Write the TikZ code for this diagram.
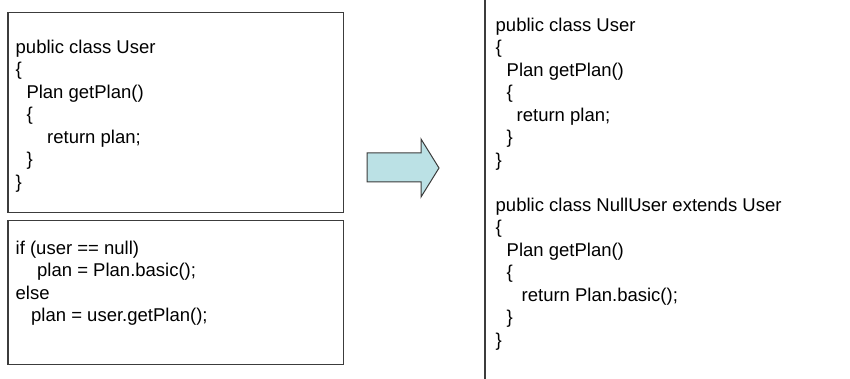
\documentclass[tikz,border=0pt]{standalone}
\usepackage{fontspec}
\setmainfont{Liberation Sans}
\definecolor{edge}{RGB}{60,60,60}
\definecolor{arrowfill}{RGB}{187,225,229}
\begin{document}
\begin{tikzpicture}[x=1pt,y=-1pt,
  codebox/.style={draw=edge, line width=1.2pt, anchor=north west, inner sep=0pt},
  code/.style={anchor=north west, inner sep=0pt, align=left, font=\fontsize{18.5}{22.5}\selectfont}]
\useasboundingbox (0,0) rectangle (850,379);
% left boxes
\node[codebox, minimum width=335.5pt, minimum height=200pt] (box1) at (7.3,12.3) {};
\node[codebox, minimum width=335.5pt, minimum height=144pt] (box2) at (7.3,220) {};
\node[code] (t1) at (15.5,39.5) {public class User\\
{\{}\\
\hspace*{10.8pt}Plan getPlan()\\
\hspace*{10.8pt}\{\\
\hspace*{31.5pt}return plan;\\
\hspace*{10.8pt}\}\\
\}};
\node[code] (t2) at (15.5,240.5) {if (user == null)\\
\hspace*{21.5pt}plan = Plan.basic();\\
else\\
\hspace*{15.5pt}plan = user.getPlan();};
% arrow
\draw[edge, line width=1pt, fill=arrowfill] (367,153) -- (421,153) -- (421,139) -- (439,168) -- (421,197) -- (421,182) -- (367,182) -- cycle;
% right panel
\coordinate (rtop) at (485,0);
\coordinate (rbot) at (485,379);
\draw[edge, line width=1.2pt] (rtop) -- (rbot);
\node[code] (t3) at (495.5,17.5) {public class User\\
\{\\
\hspace*{11pt}Plan getPlan()\\
\hspace*{11pt}\{\\
\hspace*{21pt}return plan;\\
\hspace*{11pt}\}\\
\}\\[22.5pt]
public class NullUser extends User\\
\{\\
\hspace*{11pt}Plan getPlan()\\
\hspace*{11pt}\{\\
\hspace*{26pt}return Plan.basic();\\
\hspace*{11pt}\}\\
\}};
\end{tikzpicture}
\end{document}
